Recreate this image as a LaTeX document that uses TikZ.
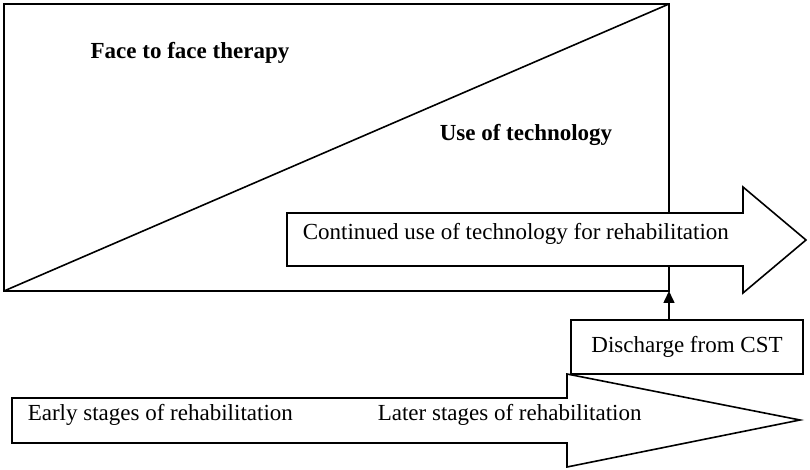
\documentclass[tikz,border=0pt]{standalone}
\usepackage{fontspec}
\setmainfont{Liberation Serif}
\usetikzlibrary{arrows.meta}

\begin{document}
\begin{tikzpicture}[x=0.5pt,y=-0.5pt,line width=0.8pt,
  lbl/.style={font=\fontsize{11.5}{13}\selectfont, inner sep=0pt},
  bold lbl/.style={font=\bfseries\fontsize{11.5}{13}\selectfont, inner sep=0pt},
  band/.style={draw, fill=white}]
  \useasboundingbox (0,0) rectangle (810,470);
  % split box
  \coordinate (TL) at (4,4);
  \coordinate (TR) at (669,4);
  \coordinate (BR) at (669,291);
  \coordinate (BL) at (4,291);
  \draw (TL) rectangle (BR);
  \draw (BL) -- (TR);
  \node[bold lbl] (face) at (190,53) {Face to face therapy};
  \node[bold lbl] (tech) at (526,135) {Use of technology};
  % top arrow
  \draw[band] (287,213) -- (743,213) -- (743,187) -- (806,240) -- (743,293)
    -- (743,266) -- (287,266) -- cycle;
  \node[lbl, anchor=west] (cont) at (302,234) {Continued use of technology for rehabilitation};
  % discharge
  \node[draw, lbl, minimum width=116pt, minimum height=27pt] (disch) at (687,347) {Discharge from CST};
  \draw[-{Triangle[width=5.5pt,length=6pt]}] (disch.north -| BR) -- (BR);
  % bottom arrow
  \draw[band] (12,398) -- (567,398) -- (567,374) -- (800,420) -- (567,467)
    -- (567,443) -- (12,443) -- cycle;
  \node[lbl, anchor=west] (early) at (27,415) {Early stages of rehabilitation};
  \node[lbl, anchor=west] (later) at (377,415) {Later stages of rehabilitation};
\end{tikzpicture}
\end{document}
